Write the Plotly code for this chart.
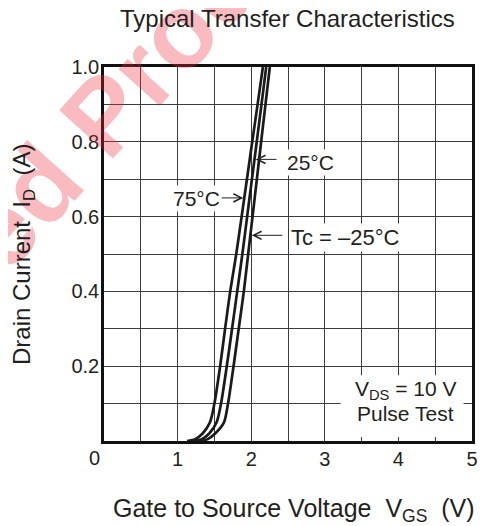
import plotly.graph_objects as go

# ---- data ----
current_A = [0, 0.005, 0.02, 0.05, 0.1, 0.2, 0.3, 0.4, 0.5, 0.6, 0.7, 0.8, 0.9, 1.0]
vgs_75C = [1.13, 1.24, 1.34, 1.44, 1.50, 1.578, 1.645, 1.715, 1.797, 1.87, 1.942, 2.014, 2.087, 2.159]
vgs_25C = [1.22, 1.33, 1.43, 1.53, 1.59, 1.668, 1.74, 1.81, 1.88, 1.945, 2.01, 2.075, 2.14, 2.204]
vgs_m25C = [1.30, 1.41, 1.51, 1.63, 1.685, 1.76, 1.83, 1.90, 1.959, 2.018, 2.077, 2.135, 2.194, 2.253]

x_ticks = [1, 2, 3, 4, 5]
y_ticks = [0.2, 0.4, 0.6, 0.8, 1.0]
y_tick_text = ["0.2", "0.4", "0.6", "0.8", "1.0"]

FONT = "Liberation Sans, Arial, sans-serif"
TXT = "#231f20"

fig = go.Figure()
for v in (vgs_75C, vgs_25C, vgs_m25C):
    fig.add_trace(go.Scatter(x=v, y=current_A, mode="lines",
                             line=dict(color="#1a1a1a", width=2.7, shape="spline", smoothing=0.8),
                             showlegend=False, hoverinfo="skip"))

grid = "#3c3c3c"
fig.update_xaxes(range=[0, 5], tickvals=x_ticks, ticks="", showgrid=True, gridcolor=grid, gridwidth=1,
                 minor=dict(dtick=0.5, showgrid=True, gridcolor=grid, gridwidth=1),
                 showline=True, linecolor="#111", linewidth=2.5, mirror=True, zeroline=False,
                 tickfont=dict(family=FONT, size=20, color=TXT), ticklabelstandoff=-2)
fig.update_yaxes(range=[0, 1.0], tickvals=y_ticks, ticktext=y_tick_text, ticks="", showgrid=True,
                 gridcolor=grid, gridwidth=1,
                 minor=dict(dtick=0.1, showgrid=True, gridcolor=grid, gridwidth=1),
                 showline=True, linecolor="#111", linewidth=2.5, mirror=True, zeroline=False,
                 tickfont=dict(family=FONT, size=20, color=TXT), ticklabelstandoff=-2)

# white panel behind the test-condition note
fig.add_shape(type="rect", xref="x", yref="y", x0=3.215, x1=4.885, y0=0.011, y1=0.176,
              fillcolor="white", line=dict(width=0), layer="above")

ann = []
# watermark
ann.append(dict(text="<b>Discontinued Product</b>", xref="paper", yref="paper", x=-0.332, y=0.512,
                xanchor="center", yanchor="middle",
                showarrow=False, textangle=-48, font=dict(family=FONT, size=105, color="rgba(236,40,60,0.32)")))
# title and axis titles
ann.append(dict(text="Typical Transfer Characteristics", xref="paper", yref="paper", x=0.498, y=1.131,
                xanchor="center", yanchor="middle",
                showarrow=False, font=dict(family=FONT, size=24, color=TXT)))
ann.append(dict(text="Gate to Source Voltage\u00a0 V<sub>GS</sub>\u00a0 (V)", xref="paper", yref="paper",
                x=0.516, y=-0.184, xanchor="center", yanchor="middle",
                showarrow=False, font=dict(family=FONT, size=25, color=TXT)))
ann.append(dict(text="Drain Current\u00a0 I<sub>D</sub>\u00a0 (A)", xref="paper", yref="paper",
                x=-0.22, y=0.5, xanchor="center", yanchor="middle",
                showarrow=False, textangle=-90, font=dict(family=FONT, size=24, color=TXT)))
ann.append(dict(text="0", xref="paper", yref="paper", x=-0.025, y=-0.046, xanchor="center", yanchor="middle",
                showarrow=False, font=dict(family=FONT, size=20, color=TXT)))

lab_font = dict(family=FONT, size=21, color=TXT)
# arrows (tail -> tip)
for tip_x, tip_y, tail_x in [(2.06, 0.753, 2.364), (1.892, 0.65, 1.575), (2.007, 0.55, 2.444)]:
    ann.append(dict(text="", x=tip_x, y=tip_y, ax=tail_x, ay=tip_y, axref="x", ayref="y", xref="x", yref="y",
                    showarrow=True, arrowhead=5, arrowsize=1.6, arrowwidth=1, arrowcolor="#222"))
# labels
ann.append(dict(text="25°C", x=2.81, y=0.746, xref="x", yref="y", showarrow=False, font=lab_font,
                bgcolor="white", borderpad=1))
ann.append(dict(text="75°C", x=1.25, y=0.648, xref="x", yref="y", showarrow=False, font=lab_font,
                bgcolor="white", borderpad=1))
ann.append(dict(text="Tc = \u201325°C", x=3.28, y=0.545, xref="x", yref="y", showarrow=False,
                font=dict(family=FONT, size=22, color=TXT), bgcolor="white", borderpad=1))
ann.append(dict(text="V<sub>DS</sub> = 10 V", x=4.1, y=0.137, xref="x", yref="y",
                showarrow=False, font=lab_font))
ann.append(dict(text="Pulse Test", x=4.1, y=0.073, xref="x", yref="y",
                showarrow=False, font=lab_font))

fig.update_layout(width=480, height=518, margin=dict(l=96, r=10, t=59, b=85),
                  paper_bgcolor="white", plot_bgcolor="white", annotations=ann,
                  font=dict(family=FONT, color=TXT))
fig.write_html("out.html")
